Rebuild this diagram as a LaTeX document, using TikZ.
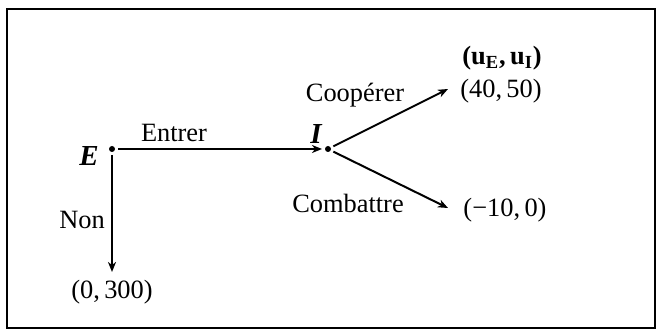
\documentclass[tikz,border=0pt]{standalone}
\usepackage{fontspec}
\setmainfont{Liberation Serif}
\usetikzlibrary{arrows.meta}
\begin{document}
\begin{tikzpicture}[x=0.5pt,y=-0.5pt,
  every node/.style={inner sep=0pt,font=\fontsize{13.2}{15}\selectfont},
  dotnode/.style={circle,fill=black,minimum size=3pt,outer sep=1.5pt},
  player/.style={font=\fontsize{14.5}{16}\selectfont\bfseries\itshape},
  move/.style={line width=1pt,-{Stealth[length=5pt,width=4pt,inset=1.5pt]}},
  lbl/.style={anchor=base}]
\useasboundingbox (0,0) rectangle (662,335);
\draw[line width=1.2pt] (7,9) rectangle (655,328);
% decision nodes
\node[dotnode] (E) at (112,149) {};
\node[dotnode] (I) at (328,149) {};
\node[player] at (89,156) {E};
\node[player] at (316,134) {I};
% end points
\coordinate (Ce) at (448,89);
\coordinate (Fe) at (448,208);
\coordinate (Ne) at (112,272);
% moves
\draw[move] (E) -- (I);
\draw[move] (I) -- (Ce);
\draw[move] (I) -- (Fe);
\draw[move] (E) -- (Ne);
% move labels
\node[lbl] at (174,142) {Entrer};
\node[lbl] at (355,102) {Coopérer};
\node[lbl] at (348,213) {Combattre};
\node[lbl] at (82,229) {Non};
% payoffs
\node at (502,58) {\textbf{(u\textsubscript{E},\,u\textsubscript{I})}};
\node at (501,91) {(40,\,50)};
\node at (505,210) {(−10,\,0)};
\node at (112,292) {(0,\,300)};
\end{tikzpicture}
\end{document}
